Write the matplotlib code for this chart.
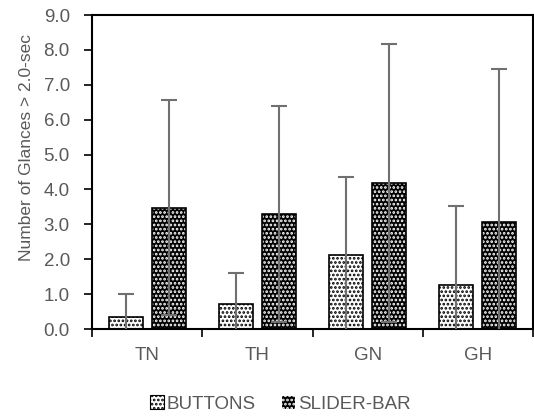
import matplotlib
matplotlib.use("Agg")
import matplotlib.pyplot as plt
import numpy as np
from matplotlib.patches import Patch

plt.rcParams['font.family'] = ['Liberation Sans', 'DejaVu Sans']
plt.rcParams['hatch.linewidth'] = 1.3

categories = ["TN", "TH", "GN", "GH"]
buttons = [0.35, 0.72, 2.12, 1.27]
buttons_err = [0.65, 0.88, 2.23, 2.25]
slider = [3.48, 3.30, 4.18, 3.08]
slider_err = [3.07, 3.10, 3.99, 4.37]
yticks = [0.0, 1.0, 2.0, 3.0, 4.0, 5.0, 6.0, 7.0, 8.0, 9.0]

fig = plt.figure(figsize=(5.34, 4.17), dpi=100)
ax = fig.add_axes([92/534, 1-329/417, (533-92)/534, (329-15)/417])

x = np.arange(len(categories))
w = 0.31
off = 0.195
gray = '#595959'
errc = '#707070'
fs = 13.5
hatch = '....'

ax.bar(x - off, buttons, w, facecolor='white', edgecolor='black', hatch=hatch, linewidth=0, zorder=2)
ax.bar(x - off, buttons, w, fill=False, edgecolor='black', linewidth=1.2, zorder=3)
ax.bar(x + off, slider, w, facecolor='black', edgecolor='white', hatch=hatch, linewidth=0, zorder=2)
ax.bar(x + off, slider, w, fill=False, edgecolor='black', linewidth=1.2, zorder=3)
ax.errorbar(x - off, buttons, yerr=buttons_err, fmt='none', ecolor=errc, elinewidth=1.5, capsize=6, capthick=1.5, zorder=4)
ax.errorbar(x + off, slider, yerr=slider_err, fmt='none', ecolor=errc, elinewidth=1.5, capsize=6, capthick=1.5, zorder=4)

ax.set_xlim(-0.5, len(categories) - 0.5)
ax.set_ylim(0, 9)
ax.set_yticks(yticks)
ax.set_yticklabels([f"{v:.1f}" for v in yticks])
ax.set_xticks(np.arange(len(categories) + 1) - 0.5)
ax.set_xticklabels([])
ax.set_xticks(x, minor=True)
ax.set_xticklabels(categories, minor=True)
ax.tick_params(axis='x', which='minor', length=0, pad=13, labelsize=fs, labelcolor=gray)
ax.tick_params(axis='x', which='major', length=6, width=1.2, direction='out')
ax.tick_params(axis='y', length=6, width=1.2, direction='out', labelsize=fs, labelcolor=gray, pad=10)
for s in ax.spines.values():
    s.set_linewidth(1.5)
    s.set_color('black')
ax.set_ylabel("Number of Glances > 2.0-sec", fontsize=12.5, color=gray)
ax.yaxis.set_label_coords((34 - 92) / 441, (329 - 147.5) / 314)

h1 = Patch(facecolor='white', edgecolor='black', hatch=hatch, linewidth=0.8)
h2 = Patch(facecolor='black', edgecolor='white', hatch=hatch, linewidth=0.8)
leg = fig.legend([h1, h2], ["BUTTONS", "SLIDER-BAR"], loc='center', bbox_to_anchor=(280/534, 1-404/417),
                 ncol=2, frameon=False, fontsize=fs, handlelength=0.75, handleheight=0.75, handletextpad=0.15,
                 columnspacing=1.35)
for t in leg.get_texts():
    t.set_color(gray)

fig.savefig("out.png", dpi=100)
